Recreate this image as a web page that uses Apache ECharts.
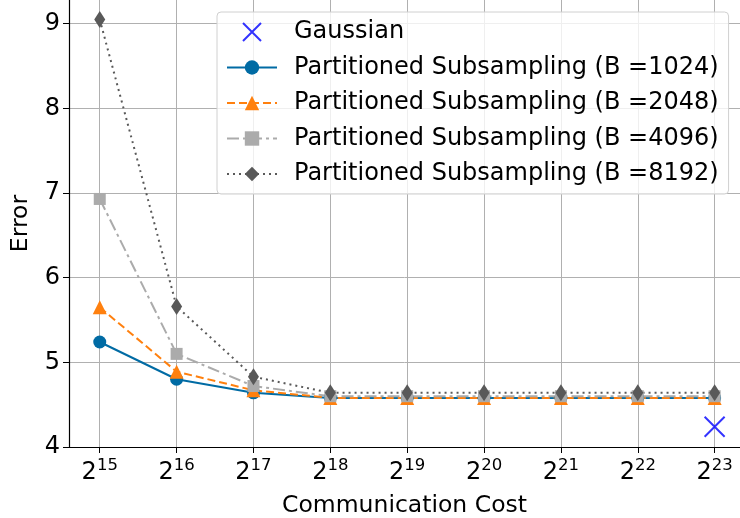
<!DOCTYPE html>
<html>
<head>
<meta charset="utf-8">
<script src="https://cdn.jsdelivr.net/npm/echarts@6/dist/echarts.min.js"></script>
<style>
  html, body { margin: 0; padding: 0; background: #fff; }
  #main { width: 740px; height: 518px; }
</style>
</head>
<body>
<div id="main"></div>
<script>
// exponents of the communication cost (2^k)
const exponents = [15, 16, 17, 18, 19, 20, 21, 22, 23];
const b1024 = [5.24, 4.80, 4.64, 4.58, 4.58, 4.58, 4.58, 4.58, 4.58];
const b2048 = [5.65, 4.89, 4.67, 4.58, 4.58, 4.58, 4.58, 4.58, 4.58];
const b4096 = [6.93, 5.10, 4.72, 4.60, 4.60, 4.60, 4.60, 4.60, 4.60];
const b8192 = [9.05, 5.66, 4.83, 4.64, 4.64, 4.64, 4.64, 4.64, 4.64];
const gaussianX = [23];
const gaussianY = [4.24];
const yTicks = [4, 5, 6, 7, 8, 9];

const font = "DejaVu Sans";

function pairs(xs, ys) {
  return xs.map((x, i) => [x, ys[i]]);
}

const chart = echarts.init(document.getElementById("main"));

const lineSeries = (name, data, color, dash, symbol, size) => ({
  name: name,
  type: "line",
  data: pairs(exponents, data),
  symbol: symbol,
  symbolSize: size,
  showAllSymbol: true,
  lineStyle: { color: color, width: 2, type: dash },
  itemStyle: { color: color },
  z: 3,
});

const option = {
  animation: false,
  backgroundColor: "#fff",
  textStyle: { fontFamily: font },
  grid: { left: 69, right: 0, top: 0, bottom: 71, containLabel: false, outerBoundsMode: "none" },
  legend: {
    orient: "vertical",
    left: 217,
    top: 12,
    padding: [8, 10, 8, 9],
    itemWidth: 50,
    itemHeight: 18,
    itemGap: 11.5,
    backgroundColor: "rgba(255,255,255,0.8)",
    borderColor: "#d0d0d0",
    borderWidth: 1,
    borderRadius: 4,
    textStyle: { fontFamily: font, fontSize: 24, lineHeight: 24, color: "#000", padding: [0, 0, 0, 12] },
    data: [
      "Gaussian",
      "Partitioned Subsampling (B =1024)",
      "Partitioned Subsampling (B =2048)",
      "Partitioned Subsampling (B =4096)",
      "Partitioned Subsampling (B =8192)",
    ],
  },
  xAxis: {
    type: "value",
    min: 14.6,
    max: 23.33,
    name: "Communication Cost",
    nameLocation: "middle",
    nameGap: 47,
    nameTextStyle: { fontFamily: font, fontSize: 23.5, color: "#000" },
    axisLine: { lineStyle: { color: "#000", width: 1.2 } },
    axisTick: { length: 6, lineStyle: { color: "#000" }, customValues: exponents },
    axisLabel: {
      margin: 10,
      customValues: exponents,
      formatter: (v) => "{b|2}{s|" + v + "}",
      rich: {
        b: { fontFamily: font, fontSize: 24, color: "#000" },
        s: { fontFamily: font, fontSize: 16.5, color: "#000", padding: [0, 0, 14, 0] },
      },
    },
    splitLine: { show: true, lineStyle: { color: "#b0b0b0", width: 1 } },
  },
  yAxis: {
    type: "value",
    min: 4,
    max: 9.28,
    name: "Error",
    nameLocation: "middle",
    nameGap: 36,
    nameTextStyle: { fontFamily: font, fontSize: 23.5, color: "#000" },
    axisLine: { show: true, lineStyle: { color: "#000", width: 1.2 } },
    axisTick: { show: true, length: 6, lineStyle: { color: "#000" }, customValues: yTicks },
    axisLabel: {
      margin: 9,
      fontFamily: font,
      fontSize: 24,
      color: "#000",
      customValues: yTicks,
    },
    splitLine: { show: true, lineStyle: { color: "#b0b0b0", width: 1 } },
  },
  series: [
    {
      name: "Gaussian",
      type: "scatter",
      data: pairs(gaussianX, gaussianY),
      symbol: "path://M0,0L10,10M10,0L0,10",
      symbolSize: 20,
      itemStyle: { color: "rgba(0,0,0,0)", borderColor: "#0000ff", borderWidth: 2 },
      z: 4,
    },
    lineSeries("Partitioned Subsampling (B =1024)", b1024, "#006BA4", "solid", "circle", 13),
    lineSeries("Partitioned Subsampling (B =2048)", b2048, "#FF800E", [8, 4], "triangle", 14),
    lineSeries("Partitioned Subsampling (B =4096)", b4096, "#ABABAB", [12, 4, 3, 4], "rect", 12),
    lineSeries("Partitioned Subsampling (B =8192)", b8192, "#595959", [2, 4], "diamond", [11, 17]),
  ],
};

chart.setOption(option);
</script>
</body>
</html>
